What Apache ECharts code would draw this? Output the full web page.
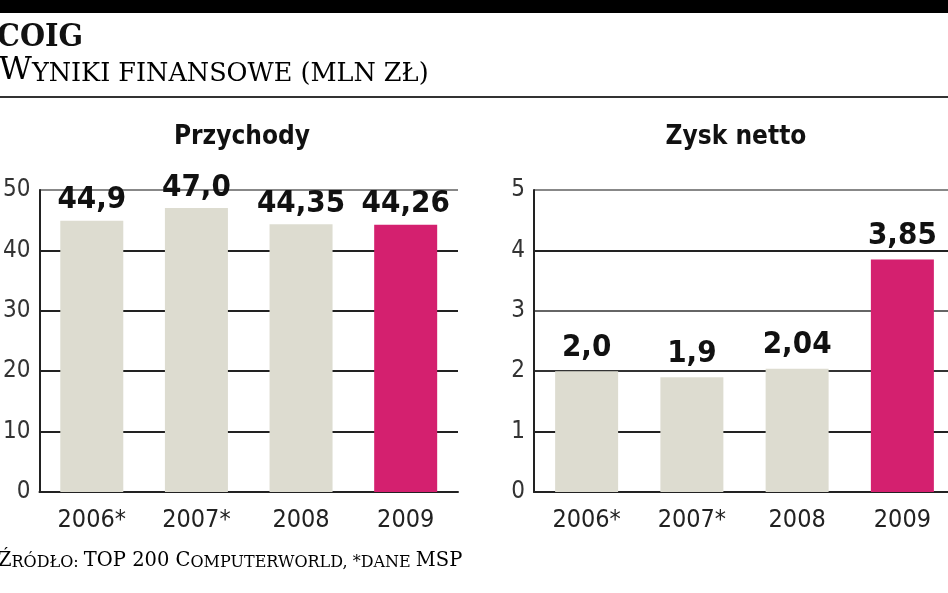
<!DOCTYPE html>
<html><head><meta charset="utf-8">
<script src="https://cdn.jsdelivr.net/npm/echarts@6/dist/echarts.min.js"></script>
<style>html,body{margin:0;padding:0;background:#fff;overflow:hidden}#c{width:960px;height:593px}</style>
</head><body><div id="c"></div>
<script>
const categories = ['2006*', '2007*', '2008', '2009'];
const revenue = [44.9, 47.0, 44.35, 44.26];
const revenueLabels = ['44,9', '47,0', '44,35', '44,26'];
const profit = [2.0, 1.9, 2.04, 3.85];
const profitLabels = ['2,0', '1,9', '2,04', '3,85'];
const revenueTicks = [0, 10, 20, 30, 40, 50];
const profitTicks = [0, 1, 2, 3, 4, 5];
const highlightIndex = 3;

const GRAY = '#dddcd0', PINK = '#d4206f';
const NARROW = '"DejaVu Sans Condensed",sans-serif';
const SERIF = '"DejaVu Serif",serif';

const chart = echarts.init(document.getElementById('c'), null, {renderer: 'canvas'});

function yAxis(idx, ticks, colors) {
  return {
    gridIndex: idx, type: 'value', min: ticks[0], max: ticks[ticks.length - 1],
    interval: ticks[1] - ticks[0],
    axisLine: {show: true, lineStyle: {color: '#222', width: 2}},
    axisTick: {show: false},
    axisLabel: {color: '#333', fontFamily: NARROW, fontSize: 24, margin: 9},
    splitLine: {show: true, lineStyle: {color: colors, width: 2}}
  };
}
function xAxis(idx) {
  return {
    gridIndex: idx, type: 'category', data: categories,
    axisLine: {show: true, lineStyle: {color: '#222', width: 2}},
    axisTick: {show: false},
    axisLabel: {color: '#222', fontFamily: NARROW, fontSize: 25, margin: 16}
  };
}
function barSeries(idx, values, labels, dist) {
  return {
    type: 'bar', xAxisIndex: idx, yAxisIndex: idx, data: values, barWidth: 63,
    itemStyle: {color: p => p.dataIndex === highlightIndex ? PINK : GRAY},
    label: {show: true, position: 'top', distance: dist, formatter: p => labels[p.dataIndex],
      color: '#111', fontFamily: NARROW, fontWeight: 'bold', fontSize: 31},
    silent: true, animation: false
  };
}

chart.setOption({
  animation: false,
  grid: [
    {left: 37, top: 190, width: 421, height: 302},
    {left: 534, top: 190, width: 421, height: 302}
  ],
  xAxis: [xAxis(0), xAxis(1)],
  yAxis: [
    yAxis(0, revenueTicks, ['#222', '#222', '#222', '#222', '#222', '#888']),
    yAxis(1, profitTicks, ['#222', '#222', '#333', '#666', '#222', '#888'])
  ],
  series: [barSeries(0, revenue, revenueLabels, 5), barSeries(1, profit, profitLabels, 8)],
  graphic: [
    {type: 'rect', shape: {x: 0, y: 0, width: 960, height: 13}, style: {fill: '#000'}},
    {type: 'rect', shape: {x: 0, y: 96, width: 960, height: 2}, style: {fill: '#333'}},
    {type: 'text', x: -3, y: 22, style: {text: 'COIG', font: 'bold 32px "DejaVu Serif Condensed","DejaVu Serif",serif', fill: '#111'}},
    {type: 'text', x: -1, y: 52, style: {
      text: '{a|W}{b|YNIKI FINANSOWE (MLN ZŁ)}',
      rich: {a: {fontFamily: SERIF, fontSize: 32, color: '#111', verticalAlign: 'bottom', lineHeight: 35},
             b: {fontFamily: SERIF, fontSize: 25.5, color: '#111', verticalAlign: 'bottom', lineHeight: 35}}
    }},
    {type: 'text', x: 242, y: 124, style: {text: 'Przychody', font: 'bold 26px ' + NARROW, fill: '#111', textAlign: 'center'}},
    {type: 'text', x: 736, y: 124, style: {text: 'Zysk netto', font: 'bold 26px ' + NARROW, fill: '#111', textAlign: 'center'}},
    {type: 'text', x: -2, y: 547, style: {
      text: '{a|Ź}{b|RÓDŁO: }{a|TOP 200 C}{b|OMPUTERWORLD, *DANE }{a|MSP}',
      rich: {a: {fontFamily: SERIF, fontSize: 19.5, color: '#111', verticalAlign: 'bottom', lineHeight: 24},
             b: {fontFamily: SERIF, fontSize: 16, color: '#111', verticalAlign: 'bottom', lineHeight: 24}}
    }}
  ]
});
</script></body></html>
